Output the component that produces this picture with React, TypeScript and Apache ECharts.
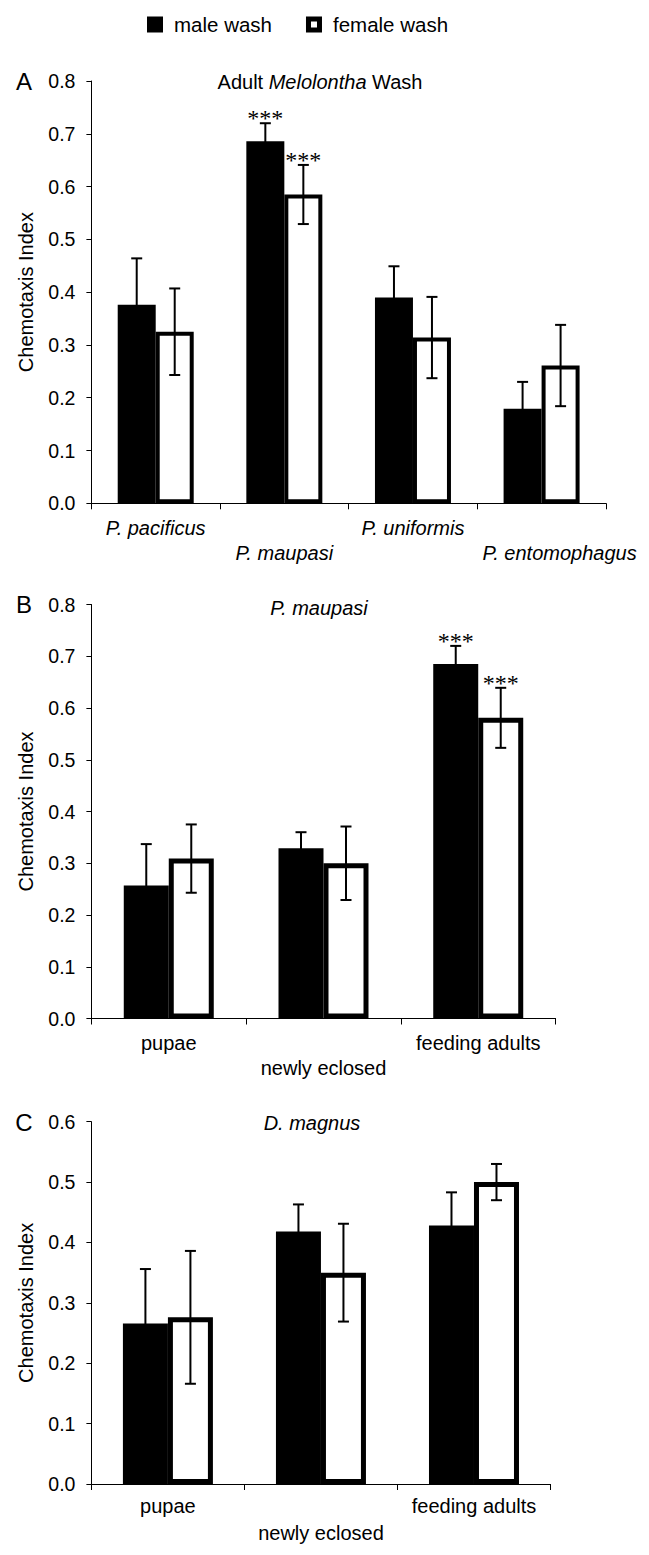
import React, { useEffect, useRef } from 'react';
import * as echarts from 'echarts';

// ---------- data ----------
const speciesA = ['P. pacificus', 'P. maupasi', 'P. uniformis', 'P. entomophagus'];
const maleA = [0.376, 0.686, 0.39, 0.179];
const maleErrA = [0.088, 0.034, 0.059, 0.051];
const femaleA = [0.325, 0.585, 0.314, 0.261];
const femaleErrA = [0.082, 0.056, 0.077, 0.077];
const maleStarsA = ['', '***', '', ''];
const femaleStarsA = ['', '***', '', ''];

const stages = ['pupae', 'newly eclosed', 'feeding adults'];
const maleB = [0.257, 0.329, 0.685];
const maleErrB = [0.08, 0.031, 0.035];
const femaleB = [0.309, 0.3, 0.581];
const femaleErrB = [0.066, 0.071, 0.058];
const maleStarsB = ['', '', '***'];
const femaleStarsB = ['', '', '***'];

const maleC = [0.266, 0.418, 0.428];
const maleErrC = [0.09, 0.045, 0.055];
const femaleC = [0.276, 0.35, 0.5];
const femaleErrC = [0.11, 0.081, 0.03];
const maleStarsC = ['', '', ''];
const femaleStarsC = ['', '', ''];

const yMaxA = 0.8;
const yMaxB = 0.8;
const yMaxC = 0.6;
const yStep = 0.1;

const seriesNames = ['male wash', 'female wash'];
const yName = 'Chemotaxis Index';
const panelLetters = ['A', 'B', 'C'];

const FONT = '"Liberation Sans", Arial, sans-serif';

// ---------- layout ----------
const panels = [
  {
    cats: speciesA, male: maleA, maleErr: maleErrA, female: femaleA, femaleErr: femaleErrA,
    maleStars: maleStarsA, femaleStars: femaleStarsA, max: yMaxA, italic: true,
    grid: { left: 91.4, top: 81, width: 514.5, height: 422.3 },
    barW: 38, border: 4, labelMargin: 12.5, labelLH: 25, shiftLast: 36,
  },
  {
    cats: stages, male: maleB, maleErr: maleErrB, female: femaleB, femaleErr: femaleErrB,
    maleStars: maleStarsB, femaleStars: femaleStarsB, max: yMaxB, italic: false,
    grid: { left: 91.4, top: 604.5, width: 464.2, height: 414 },
    barW: 45, border: 5, labelMargin: 12.3, labelLH: 25, shiftLast: 0,
  },
  {
    cats: stages, male: maleC, maleErr: maleErrC, female: femaleC, femaleErr: femaleErrC,
    maleStars: maleStarsC, femaleStars: femaleStarsC, max: yMaxC, italic: false,
    grid: { left: 91.4, top: 1121.7, width: 459.1, height: 362.3 },
    barW: 45, border: 5, labelMargin: 8, labelLH: 27, shiftLast: 0,
  },
];

function buildOption() {
  const grid: any[] = [];
  const xAxis: any[] = [];
  const yAxis: any[] = [];
  const series: any[] = [];

  panels.forEach((p, g) => {
    grid.push({ ...p.grid, containLabel: false });
    const fontStyle = p.italic ? 'italic' : 'normal';
    const lastIdx = p.cats.length - 1;
    xAxis.push({
      type: 'category',
      gridIndex: g,
      data: p.cats,
      axisLine: { show: true, lineStyle: { color: '#000', width: 1 } },
      axisTick: { show: true, length: 6, alignWithLabel: false, lineStyle: { color: '#000', width: 1 } },
      axisLabel: {
        interval: 0,
        margin: p.labelMargin,
        lineHeight: p.labelLH,
        fontSize: 20,
        fontFamily: FONT,
        fontStyle,
        color: '#000',
        rich: {
          sh: {
            fontSize: 20,
            fontFamily: FONT,
            fontStyle,
            color: '#000',
            lineHeight: p.labelLH,
            padding: [0, 0, 0, p.shiftLast],
          },
        },
        formatter: (v: string, i: number) => {
          const t = p.shiftLast && i === lastIdx ? '{sh|' + v + '}' : v;
          return i % 2 === 1 ? '\n' + t : t;
        },
      },
      splitLine: { show: false },
    });
    yAxis.push({
      type: 'value',
      gridIndex: g,
      min: 0,
      max: p.max,
      interval: yStep,
      name: yName,
      nameLocation: 'middle',
      nameGap: 55,
      nameTextStyle: { fontSize: 20, fontFamily: FONT, color: '#000' },
      axisLine: { show: true, lineStyle: { color: '#000', width: 1 } },
      axisTick: { show: true, length: 5, lineStyle: { color: '#000', width: 1 } },
      splitLine: { show: false },
      axisLabel: {
        fontSize: 19.5,
        fontFamily: FONT,
        color: '#000',
        margin: 16,
        formatter: (v: number) => v.toFixed(1),
      },
    });

    series.push({
      type: 'bar',
      name: seriesNames[0],
      xAxisIndex: g,
      yAxisIndex: g,
      data: p.male,
      barWidth: p.barW,
      barGap: '0%',
      itemStyle: { color: '#000' },
      z: 2,
    });
    series.push({
      type: 'bar',
      name: seriesNames[1],
      xAxisIndex: g,
      yAxisIndex: g,
      data: p.female,
      barWidth: p.barW,
      barGap: '0%',
      itemStyle: { color: '#fff', borderColor: '#000', borderWidth: p.border },
      z: 3,
    });

    const rows: number[][] = [];
    const stars: string[] = [];
    p.cats.forEach((_, i) => {
      rows.push([i, p.male[i], p.maleErr[i], -1]);
      stars.push(p.maleStars[i]);
      rows.push([i, p.female[i], p.femaleErr[i], 1]);
      stars.push(p.femaleStars[i]);
    });
    const halfBar = p.barW / 2;
    series.push({
      type: 'custom',
      xAxisIndex: g,
      yAxisIndex: g,
      data: rows,
      encode: { x: 0, y: 1 },
      z: 10,
      silent: true,
      clip: false,
      renderItem: (params: any, api: any) => {
        const cat = api.value(0);
        const v = api.value(1);
        const e = api.value(2);
        const side = api.value(3);
        const c = api.coord([cat, v]);
        const hi = api.coord([cat, v + e]);
        const lo = api.coord([cat, v - e]);
        const x = c[0] + side * halfBar;
        const cap = 5.5;
        const st = { stroke: '#000', lineWidth: 2 };
        const children: any[] = [
          { type: 'line', shape: { x1: x, y1: hi[1], x2: x, y2: lo[1] }, style: st },
          { type: 'line', shape: { x1: x - cap, y1: hi[1], x2: x + cap, y2: hi[1] }, style: st },
          { type: 'line', shape: { x1: x - cap, y1: lo[1], x2: x + cap, y2: lo[1] }, style: st },
        ];
        const s = stars[params.dataIndex];
        if (s) {
          children.push({
            type: 'text',
            style: {
              text: s,
              x: x,
              y: hi[1] - 5,
              align: 'center',
              verticalAlign: 'middle',
              fontSize: 24,
              fontFamily: '"Liberation Serif", "Times New Roman", serif',
              fill: '#000',
            },
          });
        }
        return { type: 'group', children };
      },
    });
  });

  const graphic: any[] = [
    {
      type: 'text',
      x: 320,
      y: 82,
      style: {
        text: '{n|Adult }{i|Melolontha}{n| Wash}',
        rich: {
          n: { fontSize: 20, fontFamily: FONT, fill: '#000' },
          i: { fontSize: 20, fontFamily: FONT, fontStyle: 'italic', fill: '#000' },
        },
        align: 'center',
        verticalAlign: 'middle',
        fill: '#000',
      },
    },
    {
      type: 'text',
      x: 319,
      y: 608,
      style: { text: 'P. maupasi', fontSize: 20, fontFamily: FONT, fontStyle: 'italic', fill: '#000', align: 'center', verticalAlign: 'middle' },
    },
    {
      type: 'text',
      x: 312,
      y: 1123,
      style: { text: 'D. magnus', fontSize: 20, fontFamily: FONT, fontStyle: 'italic', fill: '#000', align: 'center', verticalAlign: 'middle' },
    },
  ];
  const letterY = [81, 604, 1122];
  panelLetters.forEach((L, i) => {
    graphic.push({
      type: 'text',
      x: 24,
      y: letterY[i],
      style: { text: L, fontSize: 24, fontFamily: FONT, fill: '#000', align: 'center', verticalAlign: 'middle' },
    });
  });

  return {
    animation: false,
    backgroundColor: '#fff',
    textStyle: { fontFamily: FONT, color: '#000' },
    legend: {
      left: 142,
      top: 9,
      itemWidth: 16,
      itemHeight: 16,
      itemGap: 34,
      selectedMode: false,
      textStyle: { fontSize: 20.5, fontFamily: FONT, color: '#000', padding: [0, 0, 0, 6] },
      data: [
        { name: seriesNames[0], icon: 'rect', itemStyle: { color: '#000', borderWidth: 0 } },
        {
          name: seriesNames[1],
          icon: 'path://M0,0 L16,0 L16,16 L0,16 Z M5,5 L5,11 L11,11 L11,5 Z',
          itemStyle: { color: '#000', borderWidth: 0 },
        },
      ],
    },
    grid,
    xAxis,
    yAxis,
    series,
    graphic,
  };
}

export default function App() {
  const ref = useRef<HTMLDivElement>(null);
  useEffect(() => {
    if (!ref.current) return;
    const chart = echarts.init(ref.current, undefined, { renderer: 'svg' });
    chart.setOption(buildOption() as any);
    return () => chart.dispose();
  }, []);
  return (
    <div
      ref={ref}
      style={{ position: 'absolute', left: 0, top: 0, width: 649, height: 1555, background: '#fff' }}
    />
  );
}
